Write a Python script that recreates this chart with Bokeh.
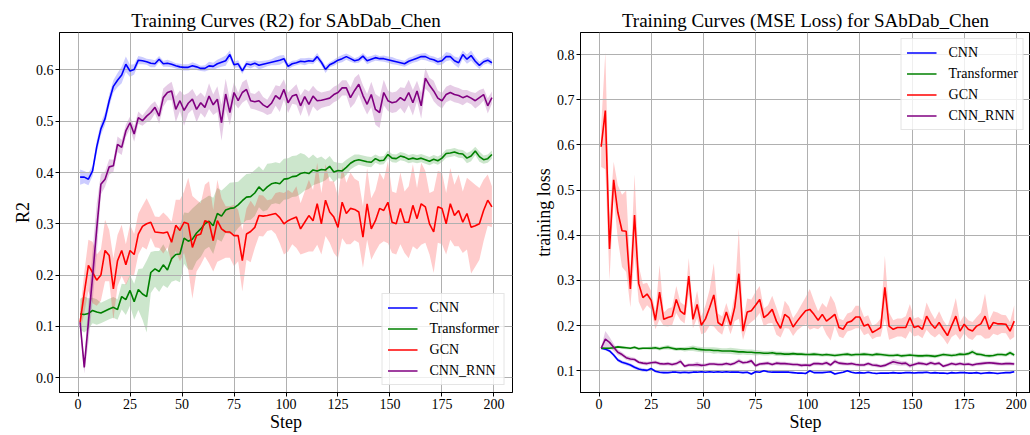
from bokeh.plotting import figure
from bokeh.models import ColumnDataSource, Range1d, FixedTicker, PrintfTickFormatter, Legend, LegendItem
from bokeh.layouts import row
from bokeh.embed import file_html
from bokeh.resources import INLINE

steps = list(range(1, 200, 2))
model_names = ["CNN", "Transformer", "GCN", "CNN_RNN"]
model_colors = ["#0000ff", "#008000", "#ff0000", "#800080"]

# ---------------- R2 (mean and spread) ----------------
r2_cnn = [
    0.391, 0.391, 0.387, 0.403, 0.450, 0.485, 0.505, 0.540, 0.568, 0.580,
    0.590, 0.611, 0.598, 0.601, 0.619, 0.618, 0.616, 0.613, 0.612, 0.621,
    0.612, 0.613, 0.611, 0.608, 0.606, 0.605, 0.605, 0.608, 0.606, 0.603,
    0.603, 0.608, 0.607, 0.612, 0.615, 0.618, 0.630, 0.610, 0.612, 0.598,
    0.612, 0.610, 0.613, 0.609, 0.611, 0.613, 0.615, 0.617, 0.619, 0.622,
    0.607, 0.612, 0.614, 0.617, 0.616, 0.618, 0.617, 0.626, 0.615, 0.601,
    0.610, 0.614, 0.619, 0.622, 0.626, 0.622, 0.618, 0.620, 0.627, 0.618,
    0.621, 0.624, 0.622, 0.622, 0.620, 0.618, 0.616, 0.614, 0.612, 0.617,
    0.620, 0.623, 0.626, 0.626, 0.622, 0.620, 0.616, 0.618, 0.626, 0.626,
    0.618, 0.614, 0.630, 0.621, 0.628, 0.617, 0.609, 0.616, 0.619, 0.614,
]
r2_cnn_sd = [
    0.015, 0.012, 0.012, 0.010, 0.012, 0.012, 0.012, 0.012, 0.012, 0.014,
    0.016, 0.015, 0.012, 0.010, 0.008, 0.007, 0.006, 0.008, 0.007, 0.006,
    0.006, 0.007, 0.006, 0.005, 0.006, 0.006, 0.006, 0.007, 0.006, 0.005,
    0.006, 0.008, 0.007, 0.008, 0.009, 0.010, 0.008, 0.006, 0.007, 0.006,
    0.006, 0.007, 0.006, 0.008, 0.007, 0.006, 0.006, 0.008, 0.009, 0.007,
    0.006, 0.006, 0.005, 0.006, 0.007, 0.006, 0.006, 0.007, 0.006, 0.007,
    0.005, 0.006, 0.006, 0.007, 0.006, 0.006, 0.005, 0.006, 0.006, 0.007,
    0.006, 0.006, 0.005, 0.006, 0.006, 0.007, 0.006, 0.006, 0.006, 0.007,
    0.006, 0.007, 0.006, 0.007, 0.006, 0.006, 0.007, 0.008, 0.009, 0.007,
    0.008, 0.010, 0.008, 0.009, 0.010, 0.008, 0.007, 0.006, 0.006, 0.006,
]
r2_transformer = [
    0.124, 0.123, 0.125, 0.131, 0.128, 0.126, 0.130, 0.134, 0.137, 0.133,
    0.158, 0.152, 0.170, 0.148, 0.172, 0.163, 0.158, 0.205, 0.212, 0.207,
    0.220, 0.210, 0.232, 0.240, 0.241, 0.272, 0.266, 0.270, 0.282, 0.290,
    0.300, 0.305, 0.296, 0.320, 0.315, 0.327, 0.330, 0.331, 0.337, 0.345,
    0.352, 0.353, 0.360, 0.372, 0.364, 0.372, 0.378, 0.380, 0.378, 0.387,
    0.388, 0.392, 0.393, 0.398, 0.400, 0.398, 0.405, 0.403, 0.406, 0.405,
    0.412, 0.401, 0.404, 0.403, 0.410, 0.418, 0.423, 0.425, 0.423, 0.421,
    0.420, 0.427, 0.423, 0.424, 0.435, 0.428, 0.427, 0.432, 0.430, 0.426,
    0.428, 0.426, 0.428, 0.425, 0.422, 0.426, 0.423, 0.428, 0.437, 0.438,
    0.440, 0.437, 0.436, 0.428, 0.432, 0.442, 0.431, 0.425, 0.427, 0.435,
]
r2_transformer_sd = [
    0.030, 0.035, 0.030, 0.025, 0.025, 0.020, 0.020, 0.020, 0.020, 0.020,
    0.025, 0.030, 0.030, 0.035, 0.040, 0.050, 0.070, 0.040, 0.035, 0.040,
    0.040, 0.035, 0.045, 0.050, 0.055, 0.050, 0.055, 0.060, 0.055, 0.055,
    0.050, 0.050, 0.055, 0.050, 0.050, 0.045, 0.050, 0.050, 0.045, 0.045,
    0.045, 0.045, 0.045, 0.040, 0.040, 0.045, 0.040, 0.040, 0.040, 0.040,
    0.040, 0.040, 0.040, 0.040, 0.035, 0.030, 0.030, 0.025, 0.025, 0.020,
    0.020, 0.020, 0.015, 0.015, 0.015, 0.012, 0.012, 0.010, 0.010, 0.010,
    0.010, 0.008, 0.008, 0.008, 0.008, 0.008, 0.008, 0.008, 0.008, 0.008,
    0.008, 0.008, 0.008, 0.008, 0.008, 0.008, 0.008, 0.008, 0.008, 0.008,
    0.008, 0.008, 0.008, 0.010, 0.010, 0.008, 0.010, 0.008, 0.008, 0.008,
]
r2_gcn = [
    0.108, 0.165, 0.219, 0.205, 0.190, 0.200, 0.248, 0.238, 0.173, 0.228,
    0.248, 0.220, 0.248, 0.240, 0.280, 0.295, 0.300, 0.303, 0.284, 0.283,
    0.282, 0.284, 0.264, 0.297, 0.287, 0.303, 0.300, 0.254, 0.277, 0.280,
    0.306, 0.303, 0.267, 0.306, 0.290, 0.284, 0.284, 0.277, 0.277, 0.228,
    0.280, 0.285, 0.293, 0.316, 0.315, 0.316, 0.318, 0.320, 0.312, 0.300,
    0.306, 0.310, 0.313, 0.290, 0.303, 0.316, 0.306, 0.339, 0.300, 0.346,
    0.323, 0.313, 0.293, 0.342, 0.320, 0.330, 0.328, 0.323, 0.274, 0.339,
    0.290, 0.306, 0.330, 0.326, 0.342, 0.303, 0.300, 0.330, 0.303, 0.303,
    0.336, 0.310, 0.339, 0.333, 0.300, 0.284, 0.333, 0.330, 0.300, 0.339,
    0.316, 0.326, 0.303, 0.320, 0.293, 0.296, 0.300, 0.326, 0.346, 0.333,
]
r2_gcn_sd = [
    0.020, 0.040, 0.050, 0.060, 0.050, 0.050, 0.060, 0.050, 0.060, 0.050,
    0.050, 0.040, 0.050, 0.040, 0.040, 0.040, 0.050, 0.030, 0.030, 0.030,
    0.040, 0.030, 0.040, 0.050, 0.060, 0.060, 0.090, 0.100, 0.070, 0.060,
    0.070, 0.080, 0.060, 0.080, 0.060, 0.050, 0.050, 0.060, 0.050, 0.060,
    0.050, 0.060, 0.040, 0.040, 0.040, 0.030, 0.030, 0.040, 0.050, 0.060,
    0.060, 0.050, 0.060, 0.050, 0.060, 0.070, 0.060, 0.080, 0.060, 0.070,
    0.060, 0.070, 0.060, 0.070, 0.060, 0.070, 0.060, 0.060, 0.060, 0.070,
    0.060, 0.060, 0.070, 0.060, 0.080, 0.060, 0.060, 0.070, 0.060, 0.070,
    0.080, 0.060, 0.080, 0.070, 0.060, 0.080, 0.070, 0.070, 0.060, 0.070,
    0.060, 0.070, 0.060, 0.070, 0.090, 0.080, 0.070, 0.060, 0.050, 0.040,
]
r2_cnn_rnn = [
    0.108, 0.020, 0.108, 0.197, 0.290, 0.377, 0.387, 0.411, 0.413, 0.455,
    0.449, 0.481, 0.497, 0.475, 0.507, 0.501, 0.510, 0.517, 0.527, 0.510,
    0.546, 0.556, 0.559, 0.523, 0.540, 0.521, 0.535, 0.543, 0.523, 0.536,
    0.527, 0.549, 0.532, 0.543, 0.497, 0.553, 0.517, 0.556, 0.540, 0.556,
    0.562, 0.540, 0.538, 0.540, 0.532, 0.527, 0.535, 0.550, 0.543, 0.562,
    0.536, 0.549, 0.552, 0.530, 0.548, 0.533, 0.549, 0.540, 0.541, 0.543,
    0.545, 0.552, 0.556, 0.565, 0.565, 0.546, 0.560, 0.572, 0.550, 0.533,
    0.552, 0.523, 0.517, 0.556, 0.540, 0.536, 0.538, 0.546, 0.540, 0.556,
    0.536, 0.559, 0.530, 0.584, 0.570, 0.559, 0.545, 0.540, 0.552, 0.556,
    0.552, 0.550, 0.546, 0.549, 0.545, 0.540, 0.546, 0.552, 0.530, 0.546,
]
r2_cnn_rnn_sd = [
    0.012, 0.012, 0.040, 0.050, 0.050, 0.020, 0.015, 0.015, 0.012, 0.015,
    0.015, 0.012, 0.012, 0.015, 0.012, 0.010, 0.012, 0.015, 0.012, 0.015,
    0.018, 0.015, 0.018, 0.025, 0.020, 0.030, 0.020, 0.020, 0.025, 0.020,
    0.020, 0.025, 0.020, 0.025, 0.035, 0.030, 0.025, 0.020, 0.015, 0.020,
    0.020, 0.015, 0.015, 0.020, 0.015, 0.015, 0.020, 0.020, 0.025, 0.020,
    0.020, 0.015, 0.020, 0.020, 0.015, 0.025, 0.020, 0.020, 0.015, 0.015,
    0.015, 0.015, 0.015, 0.015, 0.015, 0.020, 0.025, 0.020, 0.020, 0.020,
    0.025, 0.030, 0.030, 0.025, 0.020, 0.020, 0.020, 0.020, 0.025, 0.025,
    0.025, 0.020, 0.025, 0.020, 0.015, 0.020, 0.015, 0.015, 0.015, 0.015,
    0.015, 0.015, 0.015, 0.012, 0.012, 0.015, 0.015, 0.012, 0.015, 0.012,
]

# ---------------- MSE loss (mean and spread) ----------------
mse_cnn = [
    0.150, 0.148, 0.144, 0.135, 0.124, 0.119, 0.116, 0.113, 0.108, 0.104,
    0.102, 0.101, 0.105, 0.099, 0.097, 0.096, 0.096, 0.097, 0.097, 0.096,
    0.097, 0.096, 0.097, 0.097, 0.098, 0.097, 0.098, 0.097, 0.098, 0.097,
    0.098, 0.097, 0.097, 0.097, 0.096, 0.097, 0.093, 0.098, 0.097, 0.100,
    0.098, 0.097, 0.097, 0.097, 0.097, 0.097, 0.096, 0.095, 0.095, 0.094,
    0.100, 0.096, 0.096, 0.096, 0.097, 0.098, 0.093, 0.095, 0.097, 0.100,
    0.097, 0.095, 0.096, 0.095, 0.097, 0.095, 0.094, 0.095, 0.095, 0.095,
    0.096, 0.095, 0.095, 0.096, 0.096, 0.095, 0.096, 0.096, 0.097, 0.095,
    0.096, 0.095, 0.095, 0.094, 0.096, 0.095, 0.096, 0.096, 0.095, 0.095,
    0.096, 0.094, 0.095, 0.096, 0.095, 0.094, 0.095, 0.096, 0.096, 0.098,
]
mse_cnn_sd = [
    0.002, 0.003, 0.003, 0.004, 0.004, 0.004, 0.004, 0.004, 0.004, 0.004,
    0.004, 0.003, 0.003, 0.003, 0.003, 0.003, 0.002, 0.002, 0.002, 0.002,
    0.002, 0.002, 0.002, 0.002, 0.002, 0.002, 0.002, 0.002, 0.002, 0.002,
    0.002, 0.002, 0.002, 0.002, 0.002, 0.002, 0.003, 0.002, 0.002, 0.002,
    0.002, 0.002, 0.002, 0.002, 0.002, 0.002, 0.002, 0.002, 0.002, 0.002,
    0.003, 0.002, 0.002, 0.002, 0.002, 0.002, 0.003, 0.002, 0.002, 0.002,
    0.002, 0.002, 0.002, 0.002, 0.002, 0.002, 0.002, 0.002, 0.002, 0.002,
    0.002, 0.002, 0.002, 0.002, 0.002, 0.002, 0.002, 0.002, 0.002, 0.002,
    0.002, 0.002, 0.002, 0.002, 0.002, 0.002, 0.002, 0.002, 0.002, 0.002,
    0.002, 0.002, 0.002, 0.002, 0.002, 0.002, 0.002, 0.002, 0.002, 0.002,
]
mse_transformer = [
    0.150, 0.150, 0.150, 0.151, 0.153, 0.152, 0.151, 0.150, 0.152, 0.149,
    0.150, 0.150, 0.150, 0.151, 0.149, 0.151, 0.152, 0.150, 0.148, 0.149,
    0.148, 0.149, 0.150, 0.148, 0.147, 0.146, 0.146, 0.145, 0.145, 0.144,
    0.144, 0.144, 0.143, 0.142, 0.142, 0.141, 0.141, 0.140, 0.140, 0.139,
    0.139, 0.140, 0.138, 0.138, 0.137, 0.137, 0.138, 0.137, 0.137, 0.136,
    0.136, 0.137, 0.136, 0.135, 0.136, 0.135, 0.134, 0.135, 0.136, 0.137,
    0.135, 0.136, 0.136, 0.137, 0.136, 0.135, 0.137, 0.136, 0.135, 0.134,
    0.134, 0.135, 0.133, 0.134, 0.135, 0.134, 0.133, 0.133, 0.134, 0.133,
    0.132, 0.134, 0.136, 0.135, 0.134, 0.135, 0.137, 0.136, 0.138, 0.142,
    0.137, 0.136, 0.134, 0.133, 0.134, 0.136, 0.136, 0.135, 0.140, 0.135,
]
mse_transformer_sd = [
    0.002, 0.003, 0.003, 0.003, 0.003, 0.003, 0.003, 0.003, 0.003, 0.003,
    0.003, 0.003, 0.004, 0.004, 0.004, 0.004, 0.005, 0.004, 0.004, 0.004,
    0.005, 0.005, 0.006, 0.006, 0.006, 0.006, 0.006, 0.007, 0.006, 0.006,
    0.006, 0.007, 0.007, 0.007, 0.006, 0.006, 0.006, 0.006, 0.005, 0.005,
    0.005, 0.005, 0.005, 0.005, 0.005, 0.005, 0.004, 0.004, 0.004, 0.004,
    0.004, 0.004, 0.004, 0.004, 0.004, 0.004, 0.004, 0.004, 0.004, 0.004,
    0.004, 0.004, 0.004, 0.004, 0.004, 0.004, 0.004, 0.004, 0.004, 0.004,
    0.004, 0.004, 0.004, 0.004, 0.004, 0.004, 0.004, 0.004, 0.004, 0.004,
    0.004, 0.004, 0.004, 0.004, 0.004, 0.004, 0.004, 0.004, 0.004, 0.005,
    0.004, 0.004, 0.004, 0.004, 0.004, 0.004, 0.004, 0.004, 0.005, 0.004,
]
mse_gcn = [
    0.596, 0.676, 0.370, 0.523, 0.451, 0.410, 0.409, 0.281, 0.445, 0.293,
    0.262, 0.270, 0.256, 0.212, 0.274, 0.214, 0.218, 0.221, 0.258, 0.232,
    0.225, 0.310, 0.214, 0.247, 0.201, 0.215, 0.240, 0.268, 0.207, 0.200,
    0.230, 0.201, 0.240, 0.315, 0.188, 0.230, 0.233, 0.245, 0.258, 0.218,
    0.225, 0.236, 0.210, 0.194, 0.225, 0.218, 0.197, 0.210, 0.222, 0.233,
    0.236, 0.225, 0.212, 0.225, 0.210, 0.217, 0.225, 0.196, 0.192, 0.207,
    0.210, 0.219, 0.219, 0.199, 0.203, 0.185, 0.190, 0.196, 0.285, 0.199,
    0.192, 0.196, 0.196, 0.196, 0.218, 0.196, 0.199, 0.192, 0.221, 0.205,
    0.194, 0.207, 0.192, 0.178, 0.200, 0.221, 0.188, 0.203, 0.192, 0.188,
    0.199, 0.204, 0.221, 0.192, 0.207, 0.204, 0.204, 0.203, 0.188, 0.210,
]
mse_gcn_sd = [
    0.045, 0.130, 0.070, 0.040, 0.060, 0.080, 0.090, 0.040, 0.090, 0.040,
    0.030, 0.025, 0.020, 0.020, 0.060, 0.015, 0.020, 0.020, 0.030, 0.020,
    0.020, 0.040, 0.020, 0.030, 0.020, 0.030, 0.040, 0.070, 0.020, 0.020,
    0.020, 0.020, 0.030, 0.100, 0.020, 0.030, 0.025, 0.030, 0.030, 0.020,
    0.020, 0.030, 0.030, 0.020, 0.030, 0.025, 0.020, 0.020, 0.025, 0.030,
    0.045, 0.030, 0.020, 0.025, 0.030, 0.050, 0.025, 0.020, 0.020, 0.020,
    0.020, 0.025, 0.025, 0.020, 0.020, 0.015, 0.015, 0.020, 0.070, 0.030,
    0.020, 0.020, 0.020, 0.025, 0.030, 0.020, 0.020, 0.020, 0.030, 0.025,
    0.020, 0.025, 0.020, 0.020, 0.025, 0.040, 0.020, 0.020, 0.020, 0.020,
    0.020, 0.025, 0.050, 0.020, 0.025, 0.025, 0.020, 0.020, 0.020, 0.035,
]
mse_cnn_rnn = [
    0.150, 0.170, 0.163, 0.152, 0.141, 0.136, 0.129, 0.126, 0.125, 0.119,
    0.117, 0.116, 0.118, 0.119, 0.116, 0.115, 0.116, 0.114, 0.116, 0.121,
    0.110, 0.113, 0.113, 0.114, 0.112, 0.113, 0.115, 0.115, 0.114, 0.114,
    0.116, 0.114, 0.117, 0.122, 0.118, 0.119, 0.122, 0.111, 0.115, 0.116,
    0.117, 0.114, 0.117, 0.116, 0.116, 0.115, 0.114, 0.114, 0.112, 0.113,
    0.112, 0.116, 0.116, 0.115, 0.118, 0.113, 0.121, 0.117, 0.116, 0.115,
    0.116, 0.114, 0.113, 0.113, 0.116, 0.113, 0.112, 0.110, 0.112, 0.116,
    0.120, 0.118, 0.116, 0.117, 0.111, 0.114, 0.117, 0.116, 0.114, 0.118,
    0.115, 0.117, 0.110, 0.113, 0.116, 0.114, 0.116, 0.114, 0.115, 0.113,
    0.115, 0.116, 0.117, 0.118, 0.117, 0.116, 0.115, 0.116, 0.116, 0.115,
]
mse_cnn_rnn_sd = [
    0.002, 0.018, 0.012, 0.008, 0.006, 0.005, 0.005, 0.005, 0.004, 0.004,
    0.004, 0.004, 0.004, 0.004, 0.004, 0.004, 0.004, 0.004, 0.004, 0.005,
    0.004, 0.004, 0.004, 0.006, 0.004, 0.004, 0.004, 0.004, 0.004, 0.004,
    0.004, 0.004, 0.004, 0.005, 0.004, 0.004, 0.005, 0.004, 0.004, 0.004,
    0.004, 0.004, 0.004, 0.004, 0.004, 0.004, 0.004, 0.004, 0.004, 0.004,
    0.004, 0.004, 0.004, 0.004, 0.005, 0.004, 0.005, 0.004, 0.004, 0.004,
    0.004, 0.004, 0.004, 0.004, 0.004, 0.004, 0.004, 0.004, 0.004, 0.004,
    0.006, 0.006, 0.005, 0.005, 0.005, 0.004, 0.004, 0.004, 0.004, 0.005,
    0.004, 0.004, 0.004, 0.004, 0.004, 0.004, 0.004, 0.004, 0.004, 0.004,
    0.004, 0.004, 0.004, 0.004, 0.004, 0.004, 0.004, 0.004, 0.004, 0.004,
]

x_ticks = [0, 25, 50, 75, 100, 125, 150, 175, 200]
r2_ticks = [0.0, 0.1, 0.2, 0.3, 0.4, 0.5, 0.6]
mse_ticks = [0.1, 0.2, 0.3, 0.4, 0.5, 0.6, 0.7, 0.8]

FONT = "Liberation Serif"


def build(title, ylabel, means, sds, xr, yr, width, mbl, mbr, yticks, legend_loc, legend_margin):
    p = figure(width=width, height=435, x_range=Range1d(*xr), y_range=Range1d(*yr),
               output_backend="svg", toolbar_location=None,
               min_border_left=mbl, min_border_right=mbr, min_border_top=32, min_border_bottom=43,
               background_fill_color="white", border_fill_color="white")
    p.title.text = title
    p.title.align = "center"
    p.title.text_font = FONT
    p.title.text_font_size = "19px"
    p.title.text_font_style = "normal"
    p.title.text_color = "black"
    p.title.standoff = 4

    p.xaxis.ticker = FixedTicker(ticks=x_ticks)
    p.yaxis.ticker = FixedTicker(ticks=yticks)
    p.yaxis.formatter = PrintfTickFormatter(format="%.1f")
    p.xaxis.axis_label = "Step"
    p.yaxis.axis_label = ylabel
    for ax in (p.xaxis[0], p.yaxis[0]):
        ax.axis_label_text_font = FONT
        ax.axis_label_text_font_size = "18px"
        ax.axis_label_text_font_style = "normal"
        ax.axis_label_text_color = "black"
        ax.axis_label_standoff = 0
        ax.major_label_text_font = FONT
        ax.major_label_text_font_size = "14px"
        ax.major_label_text_color = "black"
        ax.major_label_standoff = 2
        ax.major_tick_in = 0
        ax.major_tick_out = 4
        ax.minor_tick_in = 0
        ax.minor_tick_out = 0
        ax.major_tick_line_color = "black"
        ax.axis_line_color = "black"

    p.grid.grid_line_color = "#b0b0b0"
    p.grid.grid_line_width = 1
    p.outline_line_color = "black"
    p.outline_line_width = 1
    p.outline_line_alpha = 1

    items = []
    for name, color, m, s in zip(model_names, model_colors, means, sds):
        lo = [a - b for a, b in zip(m, s)]
        hi = [a + b for a, b in zip(m, s)]
        src = ColumnDataSource(dict(x=steps, y=m, lo=lo, hi=hi))
        band = p.varea(x="x", y1="lo", y2="hi", source=src, fill_color=color, fill_alpha=0.2)
        band.level = "image"
        ln = p.line(x="x", y="y", source=src, line_color=color, line_width=1.6)
        items.append(LegendItem(label=name, renderers=[ln]))

    leg = Legend(items=items, location=legend_loc)
    leg.label_text_font = FONT
    leg.label_text_font_size = "14px"
    leg.label_text_color = "black"
    leg.border_line_color = "#cccccc"
    leg.border_line_width = 1
    leg.background_fill_color = "white"
    leg.background_fill_alpha = 0.8
    leg.glyph_width = 30
    leg.glyph_height = 17
    leg.label_height = 17
    leg.label_standoff = 12
    leg.spacing = 4
    leg.padding = 5
    leg.margin = legend_margin
    p.add_layout(leg)
    return p


p1 = build("Training Curves (R2) for SAbDab_Chen", "R2",
           [r2_cnn, r2_transformer, r2_gcn, r2_cnn_rnn],
           [r2_cnn_sd, r2_transformer_sd, r2_gcn_sd, r2_cnn_rnn_sd],
           (-8.9, 208.9), (-0.029, 0.673), 530, 59, 18, r2_ticks, "bottom_right", 7)
p2 = build("Training Curves (MSE Loss) for SAbDab_Chen", "training loss",
           [mse_cnn, mse_transformer, mse_gcn, mse_cnn_rnn],
           [mse_cnn_sd, mse_transformer_sd, mse_gcn_sd, mse_cnn_rnn_sd],
           (-8.9, 206.8), (0.052, 0.849), 500, 48, 0, mse_ticks, "top_right", 6)

layout = row(p1, p2)
open("out.html", "w").write(file_html(layout, INLINE))
